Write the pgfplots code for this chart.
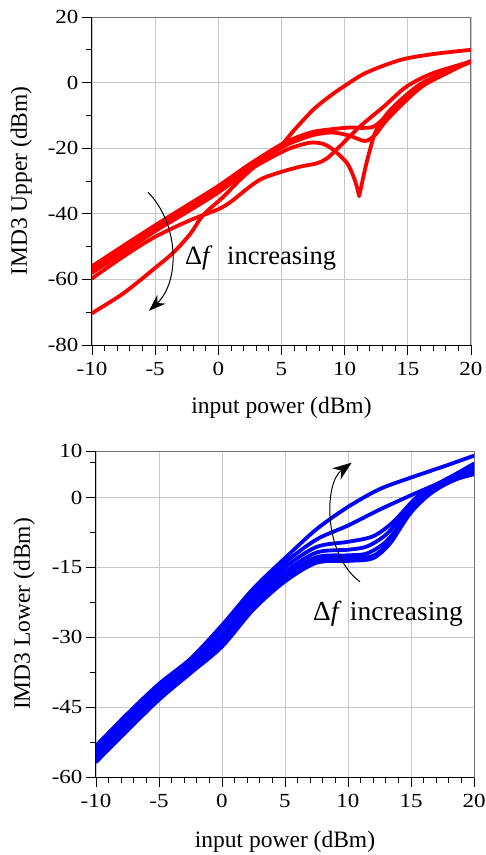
\documentclass[border=0pt]{standalone}
\usepackage{fontspec}
\setmainfont{Liberation Serif}
\newfontfamily\tickfont[FakeStretch=1.15]{Liberation Serif}
\usepackage{pgfplots}
\pgfplotsset{compat=1.18}
\usetikzlibrary{arrows.meta}
\begin{document}
\begin{tikzpicture}
\useasboundingbox (0,0) rectangle (486pt,-855pt);
\pgfplotsset{
 myax/.style={
  scale only axis, anchor=north west,
  xmin=-10, xmax=20, xtick={-10,-5,...,20}, minor x tick num=4,
  grid=major, major grid style={draw=black!22, line width=0.9pt},
  tick align=outside, xtick pos=bottom, ytick pos=left,
  major tick length=10pt, minor tick length=6pt,
  every tick/.style={black, line width=0.9pt},
  axis line style={draw=black!55, line width=1pt},
  tick label style={font=\tickfont\fontsize{20}{21}\selectfont},
  xticklabel style={yshift=-4pt},
  /pgf/number format/assume math mode=true,
  label style={font=\fontsize{23.5}{25}\selectfont},
  after end axis/.code={\draw[black,line width=1pt] (rel axis cs:0,1)--(rel axis cs:0,0)--(rel axis cs:1,0);},
 },
 rl/.style={red, line width=3.8pt, smooth, line join=round, line cap=round},
 bl/.style={blue, line width=3.8pt, smooth, line join=round, line cap=round},
}
% ---------------- top chart ----------------
\begin{axis}[myax, at={(92pt,-17pt)}, width=379pt, height=328pt,
  ymin=-80, ymax=20, ytick={-80,-60,...,20}, minor y tick num=1,
  xlabel={input power (dBm)}, ylabel={IMD3 Upper (dBm)},
  xlabel style={at={(axis description cs:0.5,-0.192)}, anchor=center},
  ylabel style={at={(axis description cs:-0.187,0.5)}, anchor=center}]
% A
\addplot[rl] coordinates {(-10,-70.3) (-7.5,-64.2) (-5,-56.5) (-3.5,-51.6) (-2.2,-46) (-1.2,-40.4) (0.4,-34.8) (1.7,-29.7) (3,-25.2) (4.2,-21.6) (5.1,-18.6) (6,-14.5) (7.5,-8.3) (8.8,-4.2) (10,-1) (11.7,3) (14.4,6.9) (17,8.7) (20,10)};
% B
\addplot[rl] coordinates {(-10,-59.7) (-7.5,-53) (-5,-47) (-2.2,-41.9) (0,-38.6) (1,-36.3) (2.5,-31.7) (3.5,-29.2) (5,-27.2) (6.5,-25.6) (7.8,-24.6) (8.6,-23.1) (9.6,-19.5) (11.2,-13.4) (13.1,-7.3) (14.9,-1.2) (17,2.9) (20,6.4)};
% C (cusp)
\addplot[rl] coordinates {(-10,-58) (-7.5,-51.7) (-5,-45.3) (-2.5,-39.5) (0,-33.5) (2.5,-26.5) (5,-21.2) (6,-19.6) (7.3,-18.3) (8.3,-18.7) (9.1,-20.5) (10.2,-24.6) (10.8,-29.7) (11.15,-34.6)};
\addplot[rl] coordinates {(11.15,-34.6) (11.6,-26.6) (12,-20.5) (12.5,-14.5) (13.6,-8.4) (15.7,-1.2) (17.5,2.5) (20,6.3)};
% D
\addplot[rl] coordinates {(-10,-56) (-7.5,-49.7) (-5,-43.5) (-2.5,-37.5) (0,-31.5) (2.5,-24.8) (5,-18.8) (6,-17) (7.5,-15) (9,-14.2) (10.4,-13.7) (11.5,-13.8) (12.3,-13.4) (13.1,-10.9) (14.4,-6.3) (16.2,-0.5) (18.3,3.6) (20,6.6)};
% E
\addplot[rl] coordinates {(-10,-57) (-7.5,-50.7) (-5,-44.5) (-2.5,-38.5) (0,-32.5) (2.5,-25.6) (5,-19.8) (6,-18) (7.5,-16) (9,-15.2) (10.4,-16.2) (11.6,-17.8) (12.4,-16) (13.2,-12) (14.5,-6.8) (16.2,-1) (18.3,3.3) (20,6.5)};
\draw[line width=1pt, -{Stealth[length=17pt,width=12pt]}] (axis cs:-5.57,-33.4) .. controls (axis cs:-3.05,-43.4) and (axis cs:-3.05,-60.8) .. (axis cs:-5.49,-69.6);
\node[anchor=base west, inner sep=0pt, font=\fontsize{26.5}{28}\selectfont] at (axis cs:-2.64,-55.6) {Δ\textit{f}\hspace{0.55em}increasing};
\end{axis}
% ---------------- bottom chart ----------------
\begin{axis}[myax, at={(96pt,-451pt)}, width=378pt, height=326pt,
  ymin=-60, ymax=10, ytick={-60,-45,-30,-15,0,10}, minor ytick={-52.5,-37.5,-22.5,-7.5,7.5},
  xlabel={input power (dBm)}, ylabel={IMD3 Lower (dBm)},
  xlabel style={at={(axis description cs:0.5,-0.199)}, anchor=center},
  ylabel style={at={(axis description cs:-0.19,0.5)}, anchor=center}]
\addplot[bl] coordinates {(-10,-56.8) (-7.5,-50) (-5,-43.4) (-2.5,-37.7) (0,-32) (2.5,-24) (5,-18) (7.5,-14) (10,-13.6) (12,-13) (13.5,-9.3) (15,-2.5) (16.5,1.3) (18,3.5) (20,5)};
\addplot[bl] coordinates {(-10,-56.3) (-7.5,-49.6) (-5,-43) (-2.5,-37.3) (0,-31.5) (2.5,-23.5) (5,-17.4) (7.5,-13.3) (10,-13) (12,-12.5) (13.5,-9) (15,-3.2) (16.5,0.8) (18,3.2) (20,5.5)};
\addplot[bl] coordinates {(-10,-55.8) (-7.5,-49.1) (-5,-42.5) (-2.5,-37) (0,-31) (2.5,-23) (5,-16.8) (7.5,-12.8) (10,-12.4) (11.5,-12) (13,-9.5) (14.5,-4.5) (16,-0.3) (18,3.5) (20,6)};
\addplot[bl] coordinates {(-10,-55.3) (-7.5,-48.6) (-5,-42) (-2.5,-36.6) (0,-30.3) (2.5,-22.3) (5,-16) (7.5,-11.8) (10,-11.2) (11.5,-10.5) (13,-8) (14.5,-3.5) (16,0.5) (18,3.8) (20,6.5)};
\addplot[bl] coordinates {(-10,-54.7) (-7.5,-48) (-5,-41.5) (-2.5,-36) (0,-29.5) (2.5,-21.5) (5,-15) (7.5,-10.6) (10,-9.5) (12,-8.3) (13.6,-5.2) (15.5,0.2) (17.5,3.5) (20,7)};
\addplot[bl] coordinates {(-10,-54) (-7.5,-47.3) (-5,-40.8) (-2.5,-35.3) (0,-28.3) (2.5,-20.5) (5,-14) (7.5,-9) (10,-6) (12.5,-2.6) (15,0.5) (17.5,3.5) (20,7.3)};
\addplot[bl] coordinates {(-10,-53.3) (-7.5,-46.4) (-5,-40) (-2.5,-34.6) (0,-27.4) (2.5,-19.5) (5,-13) (7.5,-6.8) (10,-2) (12.5,1.8) (15,4.3) (17.5,6.6) (20,9)};
\draw[line width=1pt, -{Stealth[length=19pt,width=14pt]}] (axis cs:10.95,-18.07) .. controls (axis cs:8.06,-12.3) and (axis cs:8.06,3.0) .. (axis cs:10.29,7.5);
\node[anchor=base west, inner sep=0pt, font=\fontsize{27.5}{29}\selectfont] at (axis cs:7.22,-26.3) {Δ\textit{f}\hspace{0.3em}increasing};
\end{axis}
\end{tikzpicture}
\end{document}
